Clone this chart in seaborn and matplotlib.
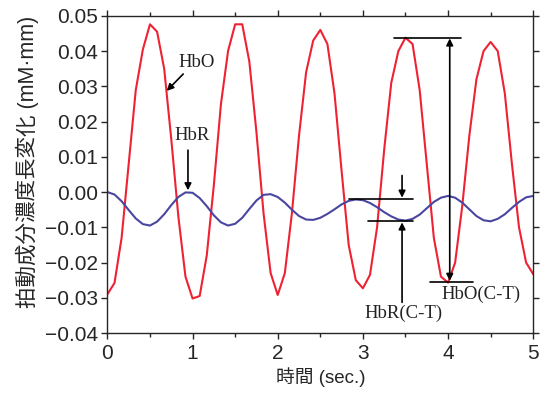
import numpy as np
import pandas as pd
import matplotlib
matplotlib.use("Agg")
import matplotlib.pyplot as plt
import seaborn as sns

sns.set_style("ticks")
plt.rcParams['font.family'] = ['Liberation Sans', 'Noto Sans CJK JP', 'DejaVu Sans']
plt.rcParams['axes.unicode_minus'] = True

# 時間 (sec.)  1/12 秒ごと
time = np.linspace(0, 5, 61)

# 拍動成分 HbO
hbo = [-0.0290, -0.0258, -0.0130, 0.0080, 0.0290, 0.0405, 0.0476, 0.0455, 0.0350, 0.0150,
       -0.0070, -0.0240, -0.0302, -0.0295, -0.0180, 0.0020, 0.0250, 0.0400, 0.0476, 0.0476,
       0.0370, 0.0170, -0.0060, -0.0230, -0.0292, -0.0230, -0.0060, 0.0160, 0.0340, 0.0430,
       0.0460, 0.0420, 0.0280, 0.0060, -0.0150, -0.0250, -0.0273, -0.0235, -0.0100, 0.0120,
       0.0310, 0.0400, 0.0438, 0.0420, 0.0290, 0.0080, -0.0130, -0.0240, -0.0257, -0.0200,
       -0.0040, 0.0160, 0.0320, 0.0400, 0.0426, 0.0400, 0.0280, 0.0080, -0.0100, -0.0200,
       -0.0233]

# 拍動成分 HbR
hbr = [0.0000, -0.0007, -0.0026, -0.0051, -0.0075, -0.0091, -0.0095, -0.0084, -0.0063, -0.0037,
       -0.0014, -0.0001, -0.0002, -0.0017, -0.0040, -0.0066, -0.0086, -0.0095, -0.0090, -0.0073,
       -0.0048, -0.0024, -0.0008, -0.0006, -0.0014, -0.0030, -0.0050, -0.0068, -0.0078, -0.0079,
       -0.0073, -0.0062, -0.0049, -0.0035, -0.0025, -0.0021, -0.0023, -0.0031, -0.0043, -0.0057,
       -0.0069, -0.0078, -0.0081, -0.0076, -0.0064, -0.0046, -0.0028, -0.0016, -0.0011, -0.0016,
       -0.0030, -0.0049, -0.0068, -0.0080, -0.0083, -0.0076, -0.0063, -0.0045, -0.0028, -0.0015,
       -0.0011]

df = pd.DataFrame({'t': np.concatenate([time, time]),
                   'v': hbo + hbr,
                   'kind': ['HbO'] * len(time) + ['HbR'] * len(time)})

fig = plt.figure(figsize=(5.48, 3.96), dpi=100)
ax = fig.add_axes([0.196, 0.159, 0.777, 0.801])

sns.lineplot(data=df, x='t', y='v', hue='kind', palette={'HbO': '#ee2233', 'HbR': '#4a46a0'},
             linewidth=1.5, legend=False, ax=ax)

ax.set_xlim(0, 5)
ax.set_ylim(-0.04, 0.05)
ax.set_xticks([0, 1, 2, 3, 4, 5])
ax.set_xticks([0.5, 1.5, 2.5, 3.5, 4.5], minor=True)
ax.set_yticks(np.arange(-0.04, 0.0501, 0.01))
ax.yaxis.set_major_formatter(matplotlib.ticker.FuncFormatter(
    lambda v, p: ('\u2212' if v < -1e-9 else '') + f'{abs(v):.2f}'))
ax.tick_params(axis='both', which='major', direction='out', length=4, width=1,
               labelsize=15, top=True, right=True, pad=3)
ax.tick_params(axis='both', which='minor', direction='out', length=3, width=1,
               top=True, right=True)
ax.tick_params(axis='x', pad=4)
for s in ax.spines.values():
    s.set_linewidth(1.0)

ax.set_xlabel('時間 (sec.)', fontsize=13.5, labelpad=3)
ax.set_ylabel('拍動成分濃度長変化 (mM·mm)', fontsize=15.5, labelpad=6)
ax.yaxis.set_label_coords(-0.16, 0.54)

serif = dict(family='Liberation Serif', fontsize=13.5, color='#222222')
akw = dict(arrowstyle='-|>', color='black', lw=1.2, mutation_scale=10, shrinkA=0, shrinkB=0)

ax.text(0.83, 0.0369, 'HbO', ha='left', va='center', **serif)
ax.annotate('', xy=(0.696, 0.0287), xytext=(0.89, 0.0335), arrowprops=akw)
ax.text(0.99, 0.0161, 'HbR', ha='center', va='center', **serif)
ax.annotate('', xy=(0.946, 0.0005), xytext=(0.946, 0.0119), arrowprops=akw)

# HbR(C-T)
ax.plot([2.84, 3.59], [-0.0019, -0.0019], color='black', lw=1.2)
ax.plot([3.06, 3.59], [-0.0083, -0.0083], color='black', lw=1.2)
ax.annotate('', xy=(3.46, -0.0016), xytext=(3.46, 0.0047), arrowprops=akw)
ax.annotate('', xy=(3.46, -0.0086), xytext=(3.46, -0.0313), arrowprops=akw)
ax.text(3.48, -0.0344, 'HbR(C-T)', ha='center', va='center', **serif)

# HbO(C-T)
ax.plot([3.36, 4.15], [0.0438, 0.0438], color='black', lw=1.2)
ax.plot([3.79, 4.29], [-0.0254, -0.0254], color='black', lw=1.2)
ax.annotate('', xy=(4.02, 0.0436), xytext=(4.02, -0.0252),
            arrowprops=dict(arrowstyle='<|-|>', color='black', lw=1.2, mutation_scale=10,
                            shrinkA=0, shrinkB=0))
ax.text(4.385, -0.0291, 'HbO(C-T)', ha='center', va='center', **serif)

fig.savefig('out.png', dpi=100)
